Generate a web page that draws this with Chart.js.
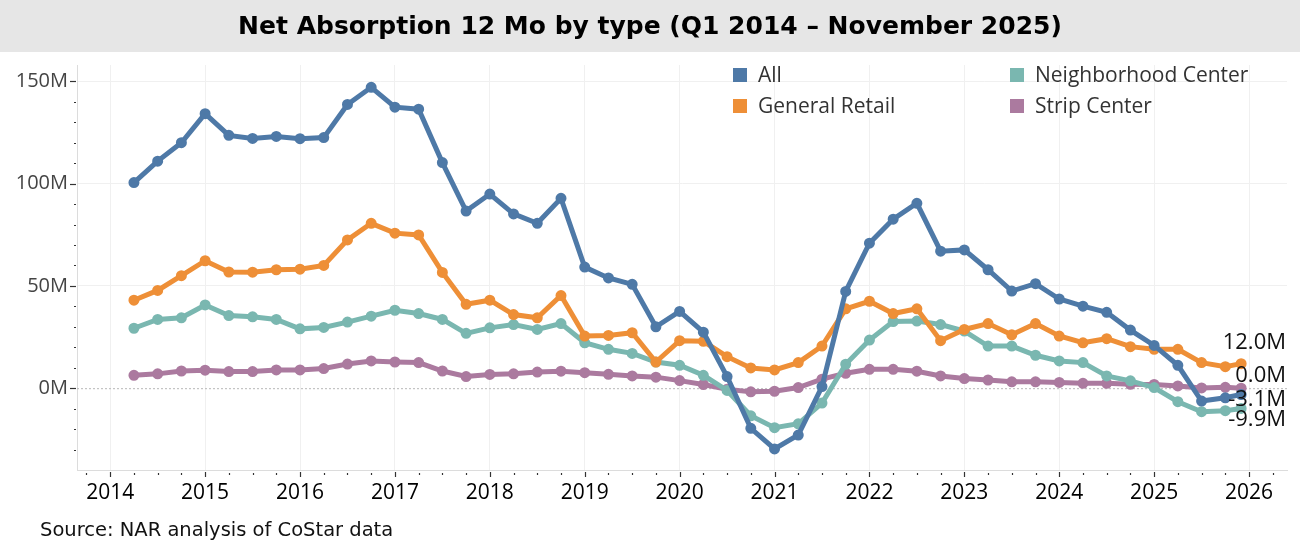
<!DOCTYPE html>
<html>
<head>
<meta charset="utf-8">
<script src="https://cdn.jsdelivr.net/npm/chart.js@4.4.0/dist/chart.umd.min.js"></script>
<style>
  html, body { margin: 0; padding: 0; background: #fff; }
  #wrap { width: 1300px; height: 556px; }
</style>
</head>
<body>
<div id="wrap"><canvas id="myChart" width="1300" height="556"></canvas></div>
<script>
// periods (quarter ends, last one is November 2025)
const periods = [
  "Q1 2014", "Q2 2014", "Q3 2014", "Q4 2014",
  "Q1 2015", "Q2 2015", "Q3 2015", "Q4 2015",
  "Q1 2016", "Q2 2016", "Q3 2016", "Q4 2016",
  "Q1 2017", "Q2 2017", "Q3 2017", "Q4 2017",
  "Q1 2018", "Q2 2018", "Q3 2018", "Q4 2018",
  "Q1 2019", "Q2 2019", "Q3 2019", "Q4 2019",
  "Q1 2020", "Q2 2020", "Q3 2020", "Q4 2020",
  "Q1 2021", "Q2 2021", "Q3 2021", "Q4 2021",
  "Q1 2022", "Q2 2022", "Q3 2022", "Q4 2022",
  "Q1 2023", "Q2 2023", "Q3 2023", "Q4 2023",
  "Q1 2024", "Q2 2024", "Q3 2024", "Q4 2024",
  "Q1 2025", "Q2 2025", "Q3 2025", "Nov 2025"
];

// net absorption, millions of sq ft
const allTypes = [
  100.5, 111, 120, 134.2, 123.6, 122.1, 123.1, 122,
  122.5, 138.7, 147.1, 137.4, 136.4, 110.3, 86.6, 94.9,
  85.2, 80.6, 92.8, 59.2, 53.9, 50.8, 30.0, 37.5,
  27.4, 5.7, -19.6, -29.7, -22.9, 0.8, 47.3, 70.9,
  82.6, 90.4, 67, 67.6, 57.9, 47.5, 51.1, 43.6,
  40.1, 37.1, 28.4, 20.9, 11.2, -6.3, -4.7, -3.1
];
const generalRetail = [
  43, 47.8, 55, 62.3, 56.8, 56.7, 57.9, 58.2,
  60, 72.5, 80.6, 75.8, 74.9, 56.6, 41, 43,
  36, 34.4, 45.3, 25.5, 25.8, 27.1, 12.8, 23.2,
  22.9, 15.4, 9.9, 8.9, 12.5, 20.6, 38.8, 42.5,
  36.5, 38.8, 23.2, 28.7, 31.6, 26.1, 31.6, 25.5,
  22.2, 24.2, 20.3, 19, 19, 12.5, 10.5, 12.0
];
const neighborhoodCenter = [
  29.3, 33.6, 34.4, 40.7, 35.5, 34.9, 33.6, 29,
  29.7, 32.3, 35.2, 38.1, 36.5, 33.6, 26.8, 29.5,
  31.1, 28.7, 31.6, 22.2, 19, 17, 12.8, 11.2,
  6.3, -1.1, -13.5, -19.3, -17.4, -7.3, 11.7, 23.5,
  32.6, 32.8, 31.1, 27.9, 20.6, 20.6, 16.1, 13.3,
  12.5, 6, 3.6, 0.3, -6.6, -11.5, -11, -9.9
];
const stripCenter = [
  6.3, 7, 8.4, 8.8, 8.1, 8.1, 8.9, 8.9,
  9.6, 11.8, 13.3, 12.8, 12.5, 8.4, 5.7, 6.7,
  7, 7.9, 8.3, 7.6, 6.8, 6, 5.4, 3.7,
  1.8, -0.5, -1.8, -1.5, 0.3, 4.4, 7.3, 9.2,
  9.2, 8.3, 6, 4.7, 4, 3.1, 3.1, 2.8,
  2.4, 2.4, 1.9, 1.8, 1.1, 0.1, 0.4, 0.0
];

const yearTicks = [2014, 2015, 2016, 2017, 2018, 2019, 2020, 2021, 2022, 2023, 2024, 2025, 2026];
const valueTicks = [0, 50, 100, 150];

// "Q1 2014" -> 2014.25 (end of quarter), "Nov 2025" -> 2025.917
function toYear(p) {
  const [a, y] = p.split(" ");
  if (a[0] === "Q") return +y + (+a[1]) * 0.25;
  return +y + 11 / 12;
}
const xs = periods.map(toYear);
const pts = (arr) => arr.map((v, i) => ({ x: xs[i], y: v }));

const series = [
  { label: "All", data: allTypes, color: "#4e79a7", labelDy: 5 },
  { label: "General Retail", data: generalRetail, color: "#ee8f37", labelDy: -21 },
  { label: "Neighborhood Center", data: neighborhoodCenter, color: "#7ab7b0", labelDy: 11 },
  { label: "Strip Center", data: stripCenter, color: "#ab7a9f", labelDy: -12 },
];

const FONT = "'Open Sans', 'Noto Sans', sans-serif";

const decor = {
  id: "decor",
  beforeDraw(chart) {
    const { ctx, width } = chart;
    ctx.save();
    ctx.fillStyle = "#fff";
    ctx.fillRect(0, 0, width, chart.height);
    ctx.fillStyle = "#e6e6e6";
    ctx.fillRect(0, 0, width, 52);
    ctx.fillStyle = "#000";
    ctx.font = "bold 25px 'DejaVu Sans', sans-serif";
    ctx.textAlign = "center";
    ctx.textBaseline = "middle";
    ctx.fillText("Net Absorption 12 Mo by type (Q1 2014 \u2013 November 2025)", 650, 27);
    ctx.restore();
  },
  beforeDatasetsDraw(chart) {
    const { ctx, chartArea: a, scales } = chart;
    const y0 = scales.y.getPixelForValue(0);
    ctx.save();
    ctx.strokeStyle = "#b8b8b8";
    ctx.lineWidth = 1;
    ctx.setLineDash([2, 2]);
    ctx.beginPath();
    ctx.moveTo(a.left, y0 + 0.5);
    ctx.lineTo(a.right, y0 + 0.5);
    ctx.stroke();
    ctx.restore();
  },
  afterDraw(chart) {
    const { ctx, chartArea: a, scales } = chart;
    ctx.save();
    ctx.strokeStyle = "#333";
    ctx.lineWidth = 1.2;
    // y ticks: dashes on labelled values, dots every 10M
    for (let v = -30; v <= 150; v += 10) {
      const py = Math.round(scales.y.getPixelForValue(v)) + 0.5;
      const major = v % 50 === 0;
      ctx.beginPath();
      ctx.moveTo(a.left - (major ? 7 : 3), py);
      ctx.lineTo(a.left - 1, py);
      ctx.stroke();
    }
    // x ticks: years and quarters
    for (let q = 2013.75; q <= 2026.25; q += 0.25) {
      const px = Math.round(scales.x.getPixelForValue(q)) + 0.5;
      const major = Math.abs(q - Math.round(q)) < 1e-6;
      ctx.beginPath();
      ctx.moveTo(px, a.bottom + (major ? 2 : 3));
      ctx.lineTo(px, a.bottom + (major ? 7 : 5));
      ctx.stroke();
    }

    // legend
    ctx.font = "21px " + FONT;
    ctx.textBaseline = "middle";
    ctx.textAlign = "left";
    const legendPos = [[733, 75], [733, 106], [1010, 75], [1010, 106]];
    series.forEach((s, i) => {
      const [lx, ly] = legendPos[i];
      ctx.fillStyle = s.color;
      ctx.fillRect(lx, ly - 7, 14, 14);
      ctx.fillStyle = "#333";
      ctx.fillText(s.label, lx + 25, ly + 1);
    });

    // end-of-line value labels
    ctx.font = "22px " + FONT;
    ctx.fillStyle = "#111";
    ctx.textAlign = "right";
    chart.data.datasets.forEach((ds, i) => {
      const last = ds.data[ds.data.length - 1];
      const py = scales.y.getPixelForValue(last.y) + series[i].labelDy;
      ctx.fillText(last.y.toFixed(1) + "M", a.right - 1, py);
    });

    // source
    ctx.font = "19.5px 'DejaVu Sans', sans-serif";
    ctx.textAlign = "left";
    ctx.fillStyle = "#111";
    ctx.fillText("Source: NAR analysis of CoStar data", 40, 531);
    ctx.restore();
  },
};

new Chart(document.getElementById("myChart").getContext("2d"), {
  type: "line",
  data: {
    datasets: series.map((s) => ({
      label: s.label,
      data: pts(s.data),
      borderColor: s.color,
      backgroundColor: s.color,
      borderWidth: 5,
      pointRadius: 3,
      pointHoverRadius: 3,
      tension: 0,
    })),
  },
  options: {
    responsive: false,
    animation: false,
    devicePixelRatio: 1,
    layout: { padding: { left: 0, right: 13, top: 65, bottom: 0 } },
    plugins: { legend: { display: false }, tooltip: { enabled: false }, title: { display: false } },
    scales: {
      x: {
        type: "linear",
        min: 2013.65,
        max: 2026.4,
        afterBuildTicks: (sc) => { sc.ticks = yearTicks.map((v) => ({ value: v })); },
        afterFit: (sc) => { sc.height = 86; },
        ticks: {
          callback: (v) => String(v),
          color: "#000",
          font: { family: FONT, size: 21 },
          padding: 10,
          maxRotation: 0,
          autoSkip: false,
        },
        grid: { color: "#f0f0f0", drawTicks: false },
        border: { color: "#dcdcdc" },
      },
      y: {
        min: -40,
        max: 158,
        afterBuildTicks: (sc) => { sc.ticks = valueTicks.map((v) => ({ value: v })); },
        afterFit: (sc) => { sc.width = 77; },
        ticks: {
          callback: (v) => v + "M",
          color: "#444",
          font: { family: FONT, size: 20 },
          padding: 9,
        },
        grid: {
          color: (c) => (c.tick && c.tick.value === 0 ? "rgba(0,0,0,0)" : "#f0f0f0"),
          drawTicks: false,
        },
        border: { color: "#dcdcdc" },
      },
    },
  },
  plugins: [decor],
});
</script>
</body>
</html>
